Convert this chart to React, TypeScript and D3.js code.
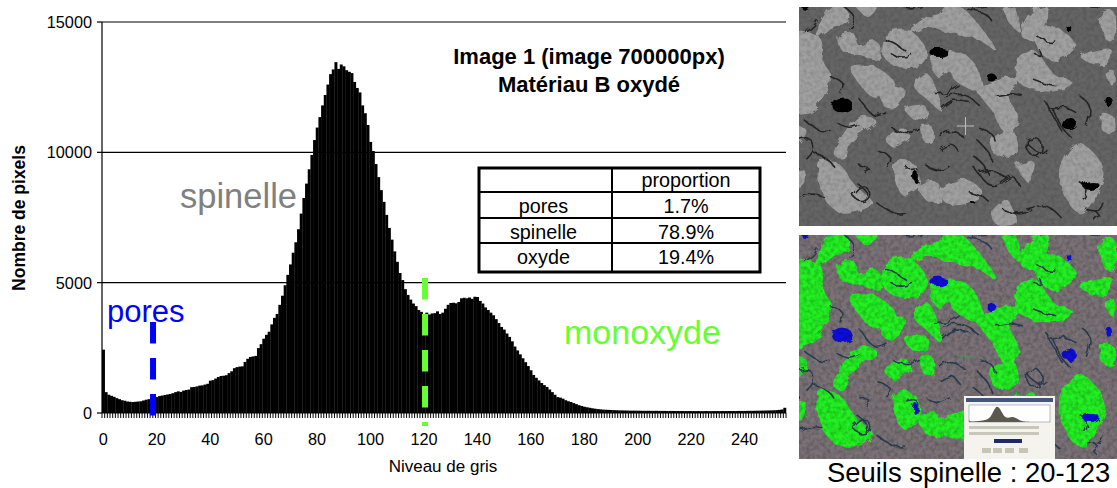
import React from "react";
import * as d3 from "d3";

// ---------- chart data ----------
const histogram: number[] = [
  2430,800,700,660,620,570,530,490,470,440,
  430,420,430,440,450,480,510,530,540,540,
  610,650,670,690,710,730,760,800,830,810,
  860,880,900,990,1000,1020,1050,1060,1090,1120,
  1240,1260,1320,1380,1420,1430,1450,1530,1600,1720,
  1760,1780,1790,1960,2080,2150,2170,2190,2490,2640,
  2850,3000,3120,3400,3650,3800,4150,4500,4900,5300,
  5700,6150,6550,7050,7650,8250,8800,9350,9900,10470,
  10950,11350,11800,12200,12600,13000,13180,13460,13200,13370,
  13300,13150,13090,13040,12700,12470,12300,11800,11500,11050,
  10400,10050,9550,9050,8550,8100,7600,7100,6650,6200,
  5800,5370,5100,4750,4530,4350,4200,4100,3950,3880,
  3800,3850,3780,3820,3830,3900,3800,3850,4000,4150,
  4220,4230,4210,4260,4400,4420,4400,4430,4380,4460,
  4450,4300,4200,4050,3950,3850,3750,3600,3450,3300,
  3200,3050,2920,2750,2550,2400,2250,2100,1950,1800,
  1640,1460,1350,1250,1150,1070,1000,900,800,700,
  610,590,550,490,450,420,380,340,300,270,
  240,220,200,180,165,150,140,130,125,120,
  115,110,105,100,100,95,95,90,90,90,
  88,86,85,84,85,83,82,84,82,80,
  80,78,79,78,76,77,75,76,75,74,
  75,74,73,74,72,73,74,72,73,74,
  75,74,76,75,77,76,78,77,80,78,
  80,82,84,83,86,88,90,92,95,98,
  100,105,110,120,135,200,
];
const xTickValues = d3.range(0, 241, 20);
const yTickValues = [0, 5000, 10000, 15000];
const poreThreshold = 19.1;
const oxideThreshold = 120.9;
const titleLines = ["Image 1 (image 700000px)", "Matériau B oxydé"];
const tableHeader = ["", "proportion"];
const tablePhases = ["pores", "spinelle", "oxyde"];
const tableShares = ["1.7%", "78.9%", "19.4%"];

// ---------- micrograph sketch (approximate phases, 960-wide image space) ----------
const lightGrains: [number, number][][] = [
  [[0,110],[75,125],[90,200],[110,240],[60,340],[0,350]],
  [[70,125],[115,35],[155,38],[165,75],[110,95]],
  [[185,22],[248,35],[225,62]],
  [[140,125],[180,115],[195,150],[250,140],[262,188],[190,172],[150,165]],
  [[275,125],[345,105],[400,170],[375,210],[300,205],[270,170]],
  [[345,115],[410,65],[440,55],[470,22],[515,45],[605,160],[560,130],[500,115],[450,105],[400,90]],
  [[635,50],[662,35],[678,105],[650,80]],
  [[685,115],[720,45],[760,35],[750,105],[720,135]],
  [[725,110],[785,95],[845,150],[790,190],[750,175]],
  [[175,215],[245,215],[305,270],[240,300],[195,255]],
  [[265,280],[335,285],[305,335],[270,325]],
  [[365,270],[400,235],[445,345],[410,315]],
  [[415,195],[470,165],[535,195],[565,285],[490,255],[470,225],[440,245]],
  [[555,280],[600,260],[680,245],[645,300],[675,375],[640,410],[600,345]],
  [[675,190],[720,165],[785,240],[835,260],[780,285],[675,255]],
  [[865,180],[950,160],[945,198],[900,205]],
  [[125,475],[200,365],[245,375],[170,435],[150,485]],
  [[340,340],[395,332],[400,368],[360,365]],
  [[385,392],[412,392],[418,435],[398,438]],
  [[80,490],[135,505],[185,570],[235,620],[150,650],[95,605]],
  [[305,505],[362,505],[375,575],[330,595]],
  [[445,580],[525,555],[565,592],[500,625],[455,615]],
  [[815,490],[860,445],[935,530],[905,605],[860,650],[805,565]],
  [[598,430],[632,415],[625,475],[608,475]],
  [[675,510],[725,505],[705,555]],
  [[0,535],[32,525],[32,565],[0,575]],
  [[598,650],[642,615],[665,680],[608,680]],
  [[0,390],[38,405],[10,445]],
  [[925,355],[960,365],[960,415],[932,405]],
  [[925,60],[960,50],[960,140],[940,130]],
  [[940,230],[960,225],[960,270]],
  [[280,430],[330,400],[350,420],[300,450]],
  [[615,420],[660,410],[670,470],[640,480]],
  [[380,570],[430,560],[440,620],[400,610]],
];
const poreBlobs: [number, number, number, number][] = [
  [35,32,12,8],[437,170,28,14],[595,245,14,12],[150,330,32,22],[830,385,22,18],
  [828,100,10,7],[895,570,25,15],[8,505,10,18],[950,320,10,15],[540,620,6,4],[365,540,8,18],
];
const cracks: [number, number][][] = [
  [[450,340],[480,310],[530,320]],[[440,460],[480,440],[500,470]],[[550,430],[590,470],[600,500]],
  [[700,440],[740,480],[760,460]],[[770,340],[820,330],[850,350]],[[190,560],[230,590],[215,610]],
  [[200,510],[240,520],[215,530]],[[250,460],[300,480],[280,510]],[[30,370],[80,410],[110,400]],
  [[60,470],[110,490],[120,510]],[[540,510],[590,580],[620,560]],[[250,620],[310,660],[340,650]],
  [[700,640],[760,620],[800,660]],[[310,30],[350,40],[400,30]],[[110,240],[160,260],[140,290]],
  [[200,310],[240,370],[280,350]],[[300,400],[350,420],[380,400]],[[620,560],[660,530],[680,570]],
  [[520,40],[580,50],[600,80]],[[760,320],[790,380],[810,410]],[[880,640],[920,650],[930,620]],
  [[420,290],[470,290],[500,270]],[[10,610],[50,590],[90,600]],[[400,510],[440,530],[470,510]],
  [[180,600],[215,560],[240,600],[205,625],[180,600]],[[700,430],[730,420],[755,450],[735,490],[700,470],[700,430]],
  [[540,480],[570,500],[590,540]],[[560,530],[600,520],[640,545]],[[440,420],[470,400],[510,420]],
  [[20,430],[50,420],[70,460],[40,490]],[[130,380],[170,400],[200,385]],[[270,130],[300,140],[340,165]],
  [[290,170],[320,190],[360,175]],[[730,120],[760,140],[790,135]],[[720,250],[760,265],[790,270]],
  [[720,170],[750,190],[740,160]],[[860,300],[900,330],[880,390]],[[780,340],[800,390],[830,420]],
  [[610,300],[650,290],[690,300]],[[450,300],[520,290],[560,330]],[[150,30],[200,70],[170,100]],
  [[540,40],[570,30],[610,30]],[[850,30],[890,30],[930,35]],[[630,640],[680,660],[720,640]],
  [[30,110],[60,90],[70,70]],[[860,560],[890,580],[870,610]],[[900,640],[925,660],[905,675]],
  [[340,520],[380,510],[370,560]],[[560,400],[600,410],[610,440]],[[530,590],[570,600],[590,620]],
];

const grainLine = d3.line().curve(d3.curveCatmullRomClosed.alpha(0.5));
const crackLine = d3.line().curve(d3.curveBasis);

function Micrograph({ x, y, width, height, filterId, colors, mottle, spread }: {
  x: number; y: number; width: number; height: number; filterId: string;
  colors: { base: string; grain: string; pore: string; crack: string }; mottle: number; spread: number;
}) {
  const sx = d3.scaleLinear().domain([6, 960]).range([0, width]);
  const sy = d3.scaleLinear().domain([22, 678]).range([0, height]);
  const clip = `${filterId}-clip`;
  const place = (p: [number, number][]) => p.map(([a, b]) => [sx(a), sy(b)] as [number, number]);
  return (
    <g transform={`translate(${x},${y})`} clipPath={`url(#${clip})`}>
      <defs>
        <clipPath id={clip}><rect width={width} height={height} /></clipPath>
        <filter id={filterId} x="-5%" y="-5%" width="110%" height="110%">
          <feTurbulence type="fractalNoise" baseFrequency="0.1" numOctaves={2} seed={4} result="n" />
          <feOffset in="SourceGraphic" dx={-4} dy={-4} result="s" />
          <feDisplacementMap in="s" in2="n" scale={8} />
          <feGaussianBlur stdDeviation={0.6} />
        </filter>
        <filter id={`${filterId}-noise`} x="0" y="0" width="100%" height="100%">
          <feTurbulence type="fractalNoise" baseFrequency="0.25" numOctaves={2} seed={9} />
          <feColorMatrix type="matrix" values={`0 0 0 0 0  0 0 0 0 0  0 0 0 0 0  ${mottle} 0 0 0 ${-mottle * 0.35}`} />
        </filter>
      </defs>
      <rect width={width} height={height} fill={colors.base} />
      <g filter={`url(#${filterId})`}>
        {lightGrains.map((g, i) => (
          <path key={i} d={grainLine(place(g)) ?? ""} fill={colors.grain} stroke={colors.grain} strokeWidth={spread} />
        ))}
        {cracks.map((c, i) => (
          <path key={i} d={crackLine(place(c)) ?? ""} fill="none" stroke={colors.crack} strokeWidth={1.6} />
        ))}
        {poreBlobs.map(([a, b, rx, ry], i) => (
          <ellipse key={i} cx={sx(a)} cy={sy(b)} rx={rx / 3} ry={ry / 3} fill={colors.pore} />
        ))}
      </g>
      <rect width={width} height={height} filter={`url(#${filterId}-noise)`} />
    </g>
  );
}

export default function App() {
  const plot = { left: 102, right: 786, top: 22, bottom: 413 };
  const x = d3.scaleLinear().domain([0, histogram.length]).range([plot.left, plot.right]);
  const y = d3.scaleLinear().domain([0, 15000]).range([plot.bottom, plot.top]);
  const band = x(1) - x(0);

  // inset "Threshold" window in the second micrograph
  const inset = { x: 964, y: 396, w: 91, h: 63 };
  const miniX = d3.scaleLinear().domain([0, 256]).range([inset.x + 5, inset.x + 86]);
  const miniY = d3.scaleLinear().domain([0, 15000]).range([inset.y + 26, inset.y + 9]);
  const miniArea = d3.area<number>()
    .x((_, i) => miniX(i)).y0(miniY(0)).y1((d) => miniY(d));

  const tableX = [479, 612, 760];
  const tableY = [168, 192, 218, 243, 272];
  const font = "'Liberation Sans', Arial, sans-serif";

  return (
    <svg width={1117} height={488} style={{ position: "absolute", left: 0, top: 0, background: "#fff" }} fontFamily={font}>
      {/* grid */}
      {yTickValues.filter((t) => t > 0).map((t) => (
        <line key={t} x1={plot.left} x2={plot.right} y1={y(t)} y2={y(t)} stroke="#000" strokeWidth={1.2} />
      ))}
      {/* histogram */}
      {histogram.map((v, i) => (
        <rect key={i} x={x(i)} y={y(v)} width={band + 0.28} height={y(0) - y(v)} fill="#000" />
      ))}
      {/* axes */}
      <line x1={plot.left} x2={plot.left} y1={plot.top} y2={plot.bottom} stroke="#000" strokeWidth={1.2} />
      <line x1={plot.left} x2={plot.right} y1={plot.bottom} y2={plot.bottom} stroke="#000" strokeWidth={1.2} />
      {d3.range(0, histogram.length + 1).map((i) => (
        <line key={i} x1={x(i)} x2={x(i)} y1={plot.bottom} y2={plot.bottom + 5} stroke="#000" strokeWidth={1} />
      ))}
      {yTickValues.map((t) => (
        <g key={t}>
          <line x1={plot.left - 5} x2={plot.left} y1={y(t)} y2={y(t)} stroke="#000" strokeWidth={1.2} />
          <text x={92} y={y(t) + 6} textAnchor="end" fontSize={16.3} fill="#000">{t}</text>
        </g>
      ))}
      {xTickValues.map((t) => (
        <text key={t} x={x(t) + band / 2} y={445} textAnchor="middle" fontSize={16.3} fill="#000">{t}</text>
      ))}
      <text x={443} y={472} textAnchor="middle" fontSize={17} fill="#000">Niveau de gris</text>
      <text transform="translate(25,218) rotate(-90)" textAnchor="middle" fontSize={17.5} fontWeight="bold" fill="#000">Nombre de pixels</text>

      {/* thresholds */}
      <line x1={x(poreThreshold)} x2={x(poreThreshold)} y1={322} y2={416} stroke="#0000ff" strokeWidth={6} strokeDasharray="21.5 14.5" />
      <line x1={x(oxideThreshold)} x2={x(oxideThreshold)} y1={278} y2={426} stroke="#66ff33" strokeWidth={6} strokeDasharray="21.5 14.5" />

      {/* phase labels */}
      <text x={180} y={208} fontSize={34.5} fill="#808080">spinelle</text>
      <text x={107} y={322} fontSize={31} fill="#0000ff">pores</text>
      <text x={564} y={344} fontSize={34} fill="#66ff33">monoxyde</text>

      {/* title */}
      {titleLines.map((l, i) => (
        <text key={l} x={589} y={64 + i * 27.5} textAnchor="middle" fontSize={22} fontWeight="bold" fill="#000">{l}</text>
      ))}

      {/* table */}
      <rect x={tableX[0]} y={tableY[0]} width={tableX[2] - tableX[0]} height={tableY[4] - tableY[0]} fill="#fff" stroke="#000" strokeWidth={3} />
      {tableY.slice(1, 4).map((v) => (
        <line key={v} x1={tableX[0]} x2={tableX[2]} y1={v} y2={v} stroke="#000" strokeWidth={2} />
      ))}
      <line x1={tableX[1]} x2={tableX[1]} y1={tableY[0]} y2={tableY[4]} stroke="#000" strokeWidth={2} />
      {tableHeader.map((h, i) => (
        <text key={i} x={(tableX[i] + tableX[i + 1]) / 2} y={187} textAnchor="middle" fontSize={19.8} fill="#000">{h}</text>
      ))}
      {tablePhases.map((p, i) => (
        <g key={p}>
          <text x={(tableX[0] + tableX[1]) / 2 - 2} y={tableY[i + 1] + 21} textAnchor="middle" fontSize={19.8} fill="#000">{p}</text>
          <text x={(tableX[1] + tableX[2]) / 2} y={tableY[i + 1] + 21} textAnchor="middle" fontSize={19.8} fill="#000">{tableShares[i]}</text>
        </g>
      ))}

      {/* micrographs */}
      <Micrograph x={799} y={7} width={318} height={219} filterId="grainA" mottle={0.28} spread={1.5}
        colors={{ base: "#656565", grain: "#a0a0a0", pore: "#050505", crack: "#262626" }} />
      <line x1={957} x2={974} y1={126} y2={126} stroke="#bdbdbd" strokeWidth={1} />
      <line x1={965.5} x2={965.5} y1={117} y2={135} stroke="#bdbdbd" strokeWidth={1} />

      <Micrograph x={799} y={235} width={318} height={224} filterId="grainB" mottle={0.45} spread={3}
        colors={{ base: "#7a7276", grain: "#22f022", pore: "#1010dc", crack: "#2c3f56" }} />
      <line x1={957} x2={974} y1={356} y2={356} stroke="#3f9a4f" strokeWidth={1} />
      <line x1={965.5} x2={965.5} y1={347} y2={365} stroke="#3f9a4f" strokeWidth={1} />

      {/* inset threshold window */}
      <rect x={inset.x} y={inset.y} width={inset.w} height={inset.h} fill="#f4f3ee" />
      <rect x={inset.x + 2} y={inset.y + 2} width={inset.w - 4} height={4} fill="#44557a" />
      <rect x={inset.x + 5} y={inset.y + 9} width={81} height={17} fill="#fff" stroke="#8c8cb0" strokeWidth={0.6} />
      <path d={miniArea(histogram) ?? ""} fill="#5c5850" />
      <rect x={inset.x + 5} y={inset.y + 30} width={70} height={3} fill="#c9c7bc" />
      <rect x={inset.x + 5} y={inset.y + 36} width={70} height={3} fill="#c9c7bc" />
      <rect x={inset.x + 30} y={inset.y + 43} width={28} height={4} fill="#1f2a60" />
      {[20, 31, 43, 57].map((dx) => (
        <rect key={dx} x={inset.x + dx - 2} y={inset.y + 52} width={9} height={5} fill="#c8c5b8" />
      ))}

      <text x={827} y={482} fontSize={27.4} fill="#000">Seuils spinelle : 20-123</text>
    </svg>
  );
}
